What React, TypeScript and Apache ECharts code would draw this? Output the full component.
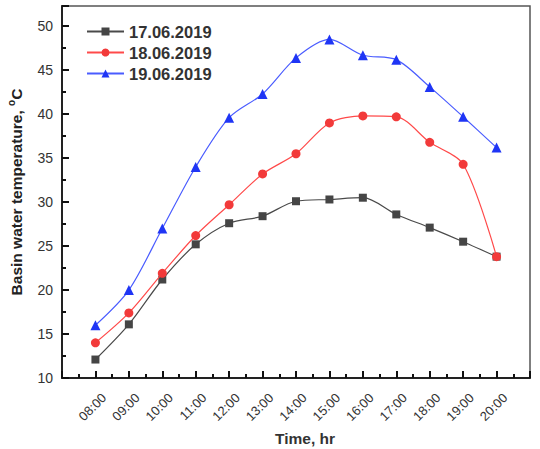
import React, { useEffect, useRef } from "react";
import * as echarts from "echarts";

const hours = [8, 9, 10, 11, 12, 13, 14, 15, 16, 17, 18, 19, 20];
const seriesNames = ["17.06.2019", "18.06.2019", "19.06.2019"];
const temp1706 = [12.1, 16.1, 21.2, 25.2, 27.6, 28.4, 30.1, 30.3, 30.5, 28.6, 27.1, 25.5, 23.8];
const temp1806 = [14.0, 17.4, 21.9, 26.2, 29.7, 33.2, 35.5, 39.0, 39.8, 39.7, 36.8, 34.3, 23.8];
const temp1906 = [16.0, 20.0, 27.0, 34.0, 39.6, 42.3, 46.4, 48.5, 46.7, 46.2, 43.1, 39.7, 36.2];

const FONT = "'Liberation Sans', Arial, sans-serif";

export default function App() {
  const ref = useRef<HTMLDivElement>(null);
  useEffect(() => {
    if (!ref.current) return;
    const chart = echarts.init(ref.current, null, { renderer: "svg" });
    const mk = (vals: number[]) => hours.map((h, i) => [h, vals[i]]);
    const colors = ["#454545", "#f23a3a", "#1f35f5"];
    const lineColors = ["#4a4a4a", "#ff4a4a", "#4a5cff"];
    const symbols = ["rect", "circle", "triangle"];
    const sizes = [8, 9, 10];
    const datasets = [temp1706, temp1806, temp1906];
    const tickStyle = { color: "#111", width: 2 };
    chart.setOption({
      animation: false,
      backgroundColor: "#fff",
      textStyle: { fontFamily: FONT },
      grid: {
        left: 62,
        right: 10,
        top: 6,
        bottom: 71,
        containLabel: false,
        outerBoundsMode: "none",
        show: true,
        borderColor: "#555",
        borderWidth: 1.5,
        backgroundColor: "transparent",
      },
      legend: {
        orient: "vertical",
        left: 81,
        top: 18,
        itemWidth: 37,
        itemHeight: 10,
        itemGap: 4,
        textStyle: { fontSize: 16.5, fontWeight: "bold", color: "#333", fontFamily: FONT },
        data: seriesNames,
      },
      xAxis: {
        type: "value",
        min: 7,
        max: 21,
        interval: 1,
        name: "Time, hr",
        nameLocation: "middle",
        nameGap: 49,
        nameTextStyle: { fontSize: 15.5, fontWeight: "bold", color: "#333", padding: [0, 0, 0, 18] },
        axisLine: { show: true, lineStyle: { color: "#222", width: 2 } },
        axisTick: { show: true, inside: true, length: 7, lineStyle: tickStyle },
        minorTick: { show: true, splitNumber: 2, length: 4, lineStyle: tickStyle },
        splitLine: { show: false },
        axisLabel: {
          rotate: 45,
          margin: 26,
          padding: [0, -12, 0, 0],
          fontSize: 13,
          color: "#333",
          formatter: (v: number) =>
            v >= 8 && v <= 20 ? (v < 10 ? "0" + v : "" + v) + ":00" : "",
        },
      },
      yAxis: {
        type: "value",
        min: 10,
        max: 52.3,
        interval: 5,
        name: "Basin water temperature, {sup|o}C",
        nameLocation: "middle",
        nameGap: 35,
        nameTextStyle: {
          fontSize: 15.5,
          fontWeight: "bold",
          color: "#222",
          lineHeight: 20,
          rich: {
            sup: { fontSize: 10, fontWeight: "bold", color: "#222", verticalAlign: "top", lineHeight: 20, padding: [0, 0, 9, 0] },
          },
        },
        axisLine: { show: true, lineStyle: { color: "#222", width: 2 } },
        axisTick: { show: true, inside: true, length: 7, lineStyle: tickStyle },
        minorTick: { show: true, splitNumber: 2, length: 4, lineStyle: tickStyle },
        splitLine: { show: false },
        axisLabel: {
          fontSize: 14,
          color: "#333",
          margin: 9,
          formatter: (v: number) => (Math.abs(v % 5) < 1e-6 ? String(v) : ""),
        },
      },
      series: datasets.map((d, i) => ({
        name: seriesNames[i],
        type: "line",
        data: mk(d),
        smooth: 0.3,
        symbol: symbols[i],
        symbolSize: sizes[i],
        itemStyle: { color: colors[i] },
        lineStyle: { color: lineColors[i], width: 1.2 },
        z: 2 + i,
      })),
    });
    return () => chart.dispose();
  }, []);
  return <div ref={ref} style={{ width: 540, height: 449, position: "absolute", left: 0, top: 0, background: "#fff" }} />;
}
